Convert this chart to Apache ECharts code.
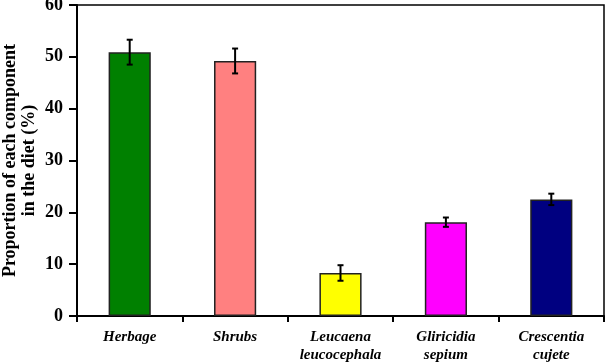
<!DOCTYPE html>
<html><head><meta charset="utf-8">
<script src="https://cdn.jsdelivr.net/npm/echarts@6/dist/echarts.min.js"></script>
<style>html,body{margin:0;padding:0;background:#fff}#c{width:608px;height:363px}</style>
</head><body><div id="c"></div>
<script>
const categories = ['Herbage', 'Shrubs', 'Leucaena\nleucocephala', 'Gliricidia\nsepium', 'Crescentia\ncujete'];
const values = [50.9, 49.2, 8.3, 18.1, 22.5];
const errors = [2.4, 2.4, 1.5, 0.9, 1.1];
const colors = ['#008000', '#FF8080', '#FFFF00', '#FF00FF', '#000080'];
const yTicks = [0, 10, 20, 30, 40, 50, 60];

const chart = echarts.init(document.getElementById('c'));
const font = 'Liberation Serif, Times New Roman, serif';
chart.setOption({
  animation: false,
  grid: { left: 77, right: 4, top: 5, bottom: 47, containLabel: false, outerBoundsMode: 'none',
          show: true, borderColor: '#000', borderWidth: 1.5 },
  xAxis: {
    type: 'category', data: categories,
    axisLine: { lineStyle: { color: '#000', width: 2 } },
    axisTick: { show: true, interval: 0, length: 6, lineStyle: { color: '#000', width: 2 } },
    axisLabel: { interval: 0, color: '#000', fontFamily: font, fontWeight: 'bold', fontStyle: 'italic', fontSize: 15, lineHeight: 18, margin: 12 }
  },
  yAxis: {
    type: 'value', min: yTicks[0], max: yTicks[yTicks.length - 1], interval: 10,
    splitLine: { show: false },
    axisLine: { show: true, lineStyle: { color: '#000', width: 2 } },
    axisTick: { show: true, length: 8, lineStyle: { color: '#000', width: 2 } },
    axisLabel: { color: '#000', fontFamily: font, fontWeight: 'bold', fontSize: 18, margin: 14 },
    name: 'Proportion of each component\nin the diet (%)',
    nameLocation: 'middle', nameRotate: 90, nameGap: 38, nameMoveOverlap: false,
    nameTextStyle: { color: '#000', fontFamily: font, fontWeight: 'bold', fontSize: 18, lineHeight: 19 }
  },
  series: [
    {
      type: 'bar', barWidth: '40%',
      data: values.map((v, i) => ({ value: v, itemStyle: { color: colors[i], borderColor: '#222', borderWidth: 1.5 } }))
    },
    {
      type: 'custom',
      data: values.map((v, i) => [i, v - errors[i], v + errors[i]]),
      renderItem: function (params, api) {
        const lo = api.coord([api.value(0), api.value(1)]);
        const hi = api.coord([api.value(0), api.value(2)]);
        const x = lo[0], hw = 3;
        const st = { stroke: '#000', lineWidth: 2 };
        return { type: 'group', children: [
          { type: 'line', shape: { x1: x, y1: lo[1], x2: x, y2: hi[1] }, style: st },
          { type: 'line', shape: { x1: x - hw, y1: lo[1], x2: x + hw, y2: lo[1] }, style: st },
          { type: 'line', shape: { x1: x - hw, y1: hi[1], x2: x + hw, y2: hi[1] }, style: st }
        ] };
      },
      z: 10
    }
  ]
});
</script></body></html>
